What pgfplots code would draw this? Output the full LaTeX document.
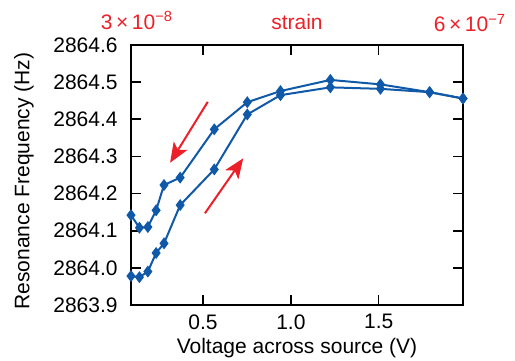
\documentclass[border=0pt]{standalone}
\usepackage{fontspec}
\setmainfont{Liberation Sans}
\usepackage{pgfplots}
\pgfplotsset{compat=1.18}
\usetikzlibrary{arrows.meta}
\definecolor{lblue}{RGB}{16,88,168}
\definecolor{ared}{RGB}{236,32,40}
\begin{document}
\fontsize{10.5}{12.6}\selectfont
\begin{tikzpicture}
\useasboundingbox (-65.5pt,-27.5pt) rectangle (192pt,152.5pt);
\begin{axis}[
  scale only axis, width=166pt, height=130pt,
  xmin=0.09, xmax=1.98, ymin=2863.9, ymax=2864.6,
  xtick={0.5,1.0,1.5}, ytick={2863.9,2864.0,2864.1,2864.2,2864.3,2864.4,2864.5,2864.6},
  tick align=inside, tick pos=both,
  major tick length=5pt,
  every tick/.style={line width=0.8pt, black},
  axis line style={line width=1pt},
  xticklabel style={/pgf/number format/.cd, fixed, fixed zerofill, precision=1, assume math mode=true},
  yticklabel style={/pgf/number format/.cd, fixed, fixed zerofill, precision=1, 1000 sep={}, assume math mode=true},
  xticklabel shift=1pt,
  yticklabel shift=3pt,
  xlabel={Voltage across source (V)},
  xlabel style={at={(rel axis cs:0.5,0)}, anchor=north, yshift=-13pt},
  clip=false,
]
\addplot[lblue, line width=1pt, mark=diamond*, mark size=2.2pt, mark options={fill=lblue, draw=lblue}] coordinates {
(0.09,2864.142) (0.138,2864.108) (0.186,2864.110) (0.233,2864.155) (0.278,2864.223)
(0.37,2864.243) (0.564,2864.373) (0.752,2864.446) (0.941,2864.476) (1.225,2864.506)
(1.51,2864.494) (1.79,2864.473) (1.98,2864.456)};
\addplot[lblue, line width=1pt, mark=diamond*, mark size=2.2pt, mark options={fill=lblue, draw=lblue}] coordinates {
(0.09,2863.978) (0.138,2863.975) (0.186,2863.990) (0.233,2864.040) (0.278,2864.066)
(0.37,2864.169) (0.564,2864.265) (0.752,2864.413) (0.941,2864.465) (1.225,2864.486)
(1.51,2864.482) (1.79,2864.473) (1.98,2864.456)};
\draw[ared, line width=1pt, -{Stealth[length=10pt, width=8pt, inset=2.5pt]}] (axis cs:0.527,2864.447) -- (axis cs:0.3125,2864.283);
\draw[ared, line width=1pt, -{Stealth[length=10pt, width=8pt, inset=2.5pt]}] (axis cs:0.511,2864.147) -- (axis cs:0.729,2864.295);
\end{axis}
\node[rotate=90, anchor=center] at (-53.5pt,62pt) {Resonance Frequency (Hz)};
\node[ared, anchor=base] at (3pt,138pt) {3\,×\,10\textsuperscript{−8}};
\node[ared, anchor=base] at (83pt,138pt) {strain};
\node[ared, anchor=base] at (169.5pt,136.5pt) {6\,×\,10\textsuperscript{−7}};
\end{tikzpicture}
\end{document}
